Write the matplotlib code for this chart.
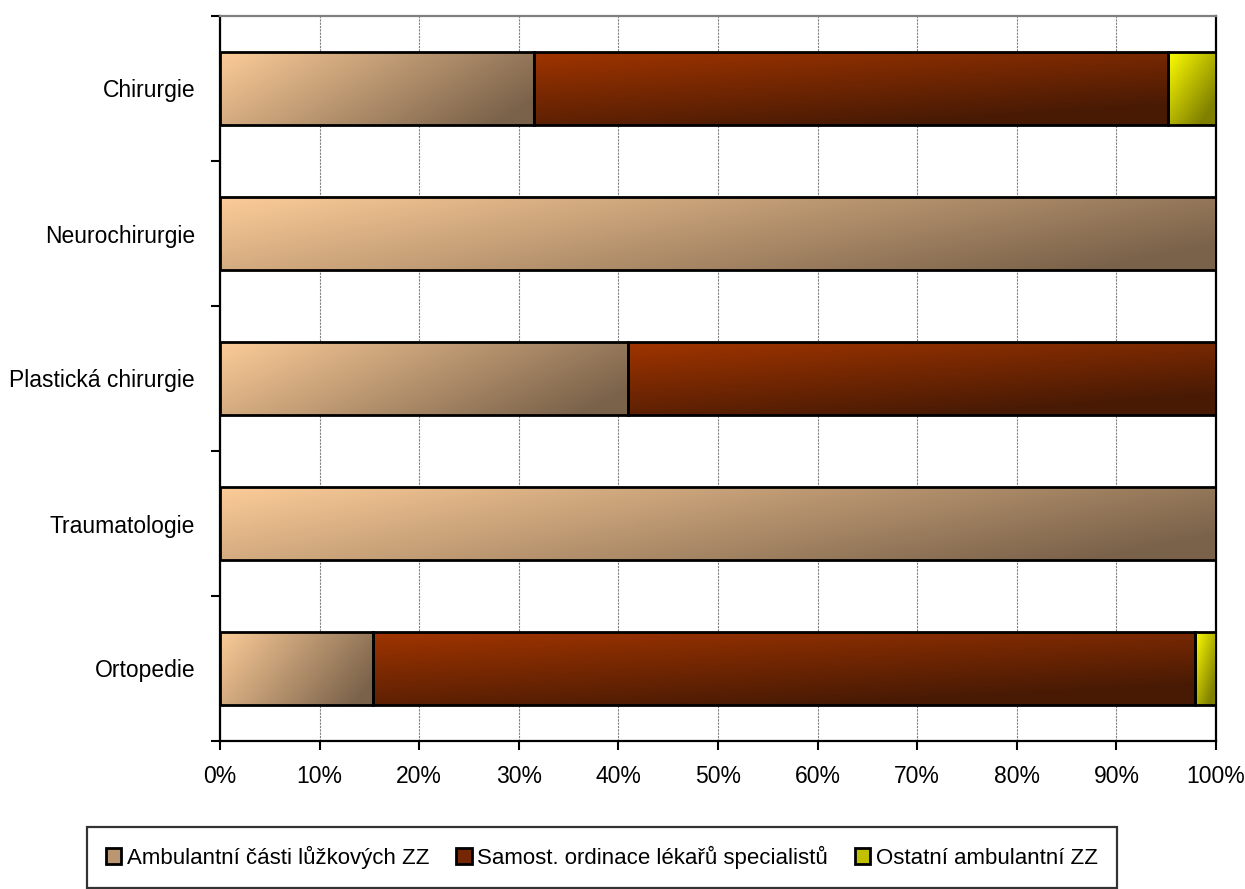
import matplotlib.pyplot as plt
import numpy as np
from matplotlib.patches import Patch

plt.rcParams['font.family'] = ['Liberation Sans', 'DejaVu Sans']

# data (shares in %)
categories = ['Chirurgie', 'Neurochirurgie', 'Plastická chirurgie', 'Traumatologie', 'Ortopedie']
ambulantni = [31.5, 100.0, 41.0, 100.0, 15.4]
samostatne = [63.7, 0.0, 59.0, 0.0, 82.5]
ostatni = [4.8, 0.0, 0.0, 0.0, 2.1]
series_names = ['Ambulantní části lůžkových ZZ', 'Samost. ordinace lékařů specialistů',
                'Ostatní ambulantní ZZ']
tick_labels = ['%d%%' % v for v in range(0, 101, 10)]

# gradient colours: (light, dark, weight x, weight y)
grad = [
    ((252, 204, 152), (122, 98, 74), 0.8, 0.3),
    ((160, 52, 0), (72, 26, 4), 0.45, 0.75),
    ((255, 255, 0), (128, 128, 0), 0.6, 0.6),
]


def gradient_img(light, dark, wx, wy, nx=200, ny=60):
    xx, yy = np.meshgrid(np.linspace(0, 1, nx), np.linspace(0, 1, ny))
    t = np.clip(wx * xx + wy * yy, 0, 1)
    light = np.array(light) / 255.0
    dark = np.array(dark) / 255.0
    return light[None, None, :] * (1 - t[..., None]) + dark[None, None, :] * t[..., None]


fig = plt.figure(figsize=(12.45, 8.89), dpi=100)
ax = fig.add_axes([220 / 1245, 1 - 741 / 889, 996 / 1245, 725 / 889])

ypos = np.arange(len(categories))[::-1]
height = 0.5
left = np.zeros(len(categories))
for vals, name, g in zip([ambulantni, samostatne, ostatni], series_names, grad):
    vals = np.array(vals)
    bars = ax.barh(ypos, vals, height=height, left=left, facecolor='none',
                   edgecolor='black', linewidth=2.0, zorder=4)
    img = gradient_img(*g)
    for b, v in zip(bars, vals):
        if v <= 0:
            continue
        x0 = b.get_x()
        y0 = b.get_y()
        ax.imshow(img, extent=(x0, x0 + b.get_width(), y0, y0 + b.get_height()),
                  origin='upper', aspect='auto', zorder=3, interpolation='bilinear')
    left = left + vals

ax.set_xlim(0, 100)
ax.set_ylim(-0.5, len(categories) - 0.5)

ax.set_xticks(np.arange(0, 101, 10))
ax.set_xticklabels(tick_labels, fontsize=16.5)
ax.set_yticks(np.arange(-0.5, len(categories), 1.0))
ax.set_yticklabels([])
ax.set_yticks(ypos, minor=True)
ax.set_yticklabels(categories, minor=True, fontsize=16.5)
ax.tick_params(axis='y', which='minor', length=0, pad=18)
ax.tick_params(axis='both', which='major', length=6.5, width=1.5, direction='out')
ax.tick_params(axis='x', pad=11)

ax.grid(axis='x', color='#808080', linestyle=(0, (2, 1)), linewidth=0.8, zorder=1)
ax.set_axisbelow(True)
for s in ['left', 'bottom', 'right']:
    ax.spines[s].set_linewidth(1.6)
    ax.spines[s].set_color('black')
ax.spines['top'].set_color('#808080')
ax.spines['top'].set_linewidth(1.6)

handles = [Patch(facecolor=np.array(g[0]) * 0.5 / 255 + np.array(g[1]) * 0.5 / 255,
                 edgecolor='black', linewidth=2.0) for g in grad]
leg = fig.legend(handles, series_names, loc='upper left',
                 bbox_to_anchor=(87 / 1245, 1 - 827 / 889), ncol=3, fontsize=16,
                 frameon=True, fancybox=False, edgecolor='black', handlelength=0.7,
                 handleheight=0.7, handletextpad=0.25, columnspacing=1.2,
                 borderpad=0.85, borderaxespad=0)
leg.get_frame().set_linewidth(1.6)

fig.savefig('out.png', dpi=100)
